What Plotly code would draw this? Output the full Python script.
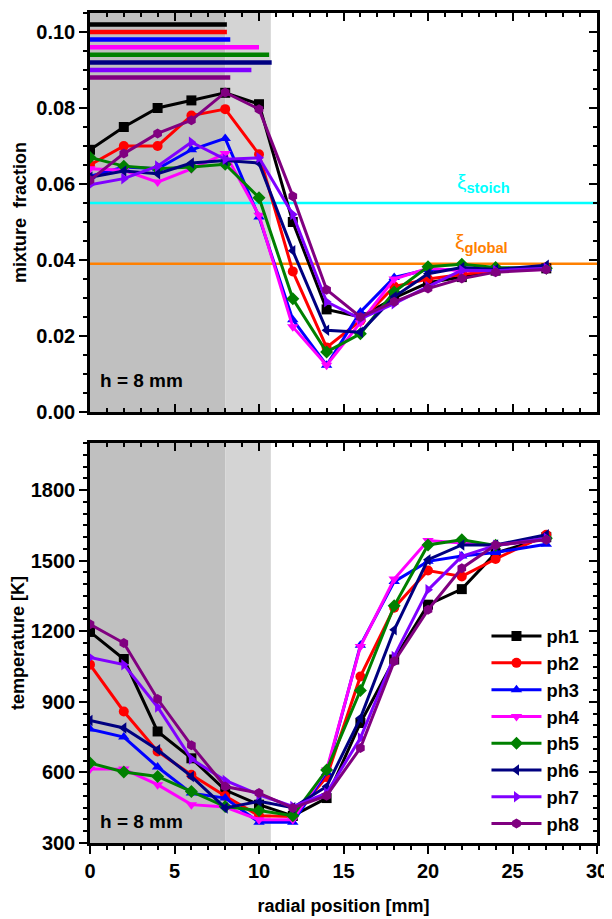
import plotly.graph_objects as go

# ---------------- data ----------------
radial_mm = [0, 2, 4, 6, 8, 10, 12, 14, 16, 18, 20, 22, 24, 27]
phases = ["ph1", "ph2", "ph3", "ph4", "ph5", "ph6", "ph7", "ph8"]
colors = ["#000000", "#ff0000", "#0000ff", "#ff00ff", "#008000", "#000080", "#8000ff", "#800080"]
symbols = ["square", "circle", "triangle-up", "triangle-down", "diamond",
           "triangle-left", "triangle-right", "hexagon"]

mix_ph1 = [0.069, 0.075, 0.080, 0.082, 0.084, 0.081, 0.050, 0.027, 0.025, 0.030, 0.034, 0.0355, 0.0372, 0.0378]
mix_ph2 = [0.065, 0.070, 0.070, 0.078, 0.0797, 0.0678, 0.037, 0.017, 0.024, 0.033, 0.035, 0.0362, 0.0372, 0.038]
mix_ph3 = [0.062, 0.0645, 0.064, 0.069, 0.072, 0.0513, 0.0243, 0.0123, 0.0263, 0.0354, 0.0375, 0.0375, 0.0375, 0.0378]
mix_ph4 = [0.064, 0.0636, 0.0605, 0.064, 0.068, 0.0518, 0.0224, 0.0123, 0.0235, 0.035, 0.0378, 0.0372, 0.0372, 0.0375]
mix_ph5 = [0.067, 0.0647, 0.064, 0.0645, 0.0652, 0.0564, 0.0298, 0.0158, 0.0206, 0.0316, 0.0382, 0.0389, 0.038, 0.0378]
mix_ph6 = [0.0618, 0.0634, 0.0627, 0.0655, 0.0662, 0.0655, 0.0424, 0.0215, 0.021, 0.0303, 0.0364, 0.038, 0.0375, 0.0386]
mix_ph7 = [0.0598, 0.0614, 0.0647, 0.071, 0.0665, 0.0669, 0.052, 0.029, 0.0245, 0.0285, 0.033, 0.0373, 0.0372, 0.0378]
mix_ph8 = [0.061, 0.068, 0.0733, 0.0768, 0.0841, 0.0797, 0.0568, 0.0322, 0.025, 0.029, 0.0325, 0.0351, 0.0368, 0.0375]

temp_ph1 = [1197, 1082, 774, 660, 525, 463, 415, 491, 810, 1080, 1313, 1379, 1532, 1600]
temp_ph2 = [1058, 859, 689, 590, 500, 416, 413, 580, 1008, 1300, 1458, 1433, 1507, 1610]
temp_ph3 = [784, 750, 623, 512, 491, 388, 388, 600, 1140, 1411, 1497, 1520, 1535, 1570]
temp_ph4 = [615, 614, 548, 463, 453, 399, 399, 610, 1135, 1422, 1586, 1575, 1565, 1590]
temp_ph5 = [640, 602, 583, 519, 455, 438, 416, 610, 948, 1308, 1567, 1589, 1565, 1595]
temp_ph6 = [821, 789, 696, 583, 449, 477, 450, 540, 831, 1206, 1504, 1567, 1567, 1610]
temp_ph7 = [1089, 1058, 878, 657, 566, 505, 455, 512, 746, 1093, 1376, 1518, 1565, 1595]
temp_ph8 = [1230, 1150, 912, 715, 540, 512, 449, 501, 704, 1072, 1291, 1468, 1567, 1589]

mix_series = [mix_ph1, mix_ph2, mix_ph3, mix_ph4, mix_ph5, mix_ph6, mix_ph7, mix_ph8]
temp_series = [temp_ph1, temp_ph2, temp_ph3, temp_ph4, temp_ph5, temp_ph6, temp_ph7, temp_ph8]

# coloured reference bars in the upper panel (level, radial extent)
bar_level = [0.102, 0.100, 0.098, 0.096, 0.094, 0.092, 0.090, 0.088]
bar_start = [0, 0, 0, 0, 0, 0, 0, 0]
bar_end = [8.1, 8.1, 8.3, 10.0, 10.6, 10.75, 9.55, 8.3]

xi_stoich = 0.055
xi_global = 0.039
shade_dark = [0, 8]
shade_light = [8, 10.7]

x_ticks = [0, 5, 10, 15, 20, 25, 30]
mix_ticks = [0.00, 0.02, 0.04, 0.06, 0.08, 0.10]
temp_ticks = [300, 600, 900, 1200, 1500, 1800]

# ---------------- figure ----------------
FONT = "Arial, Liberation Sans, sans-serif"
fig = go.Figure()

for i in range(8):
    fig.add_trace(go.Scatter(
        x=[bar_start[i], bar_end[i]], y=[bar_level[i], bar_level[i]],
        mode="lines", line=dict(color=colors[i], width=4.5),
        showlegend=False, hoverinfo="skip", xaxis="x", yaxis="y"))

for i in range(8):
    fig.add_trace(go.Scatter(
        x=radial_mm, y=mix_series[i], mode="lines+markers", name=phases[i],
        line=dict(color=colors[i], width=3),
        marker=dict(symbol=symbols[i], size=10, color=colors[i]),
        showlegend=False, xaxis="x", yaxis="y"))

for i in range(8):
    fig.add_trace(go.Scatter(
        x=radial_mm, y=temp_series[i], mode="lines+markers", name=phases[i],
        line=dict(color=colors[i], width=3),
        marker=dict(symbol=symbols[i], size=10, color=colors[i]),
        showlegend=True, xaxis="x2", yaxis="y2"))

# empty traces to activate mirror (top/right) axes
fig.add_trace(go.Scatter(x=[], y=[], xaxis="x3", yaxis="y3", showlegend=False))
fig.add_trace(go.Scatter(x=[], y=[], xaxis="x4", yaxis="y4", showlegend=False))

# shaded zones and reference lines
for yr in ["y", "y2"]:
    xr = "x" if yr == "y" else "x2"
    fig.add_shape(type="rect", xref=xr, yref=yr + " domain", x0=shade_dark[0], x1=shade_dark[1],
                  y0=0, y1=1, fillcolor="#c0c0c0", line=dict(width=0), layer="below")
    fig.add_shape(type="rect", xref=xr, yref=yr + " domain", x0=shade_light[0], x1=shade_light[1],
                  y0=0, y1=1, fillcolor="#d4d4d4", line=dict(width=0), layer="below")

fig.add_shape(type="line", xref="x domain", yref="y", x0=0, x1=1, y0=xi_stoich, y1=xi_stoich,
              line=dict(color="#00ffff", width=2.5), layer="below")
fig.add_shape(type="line", xref="x domain", yref="y", x0=0, x1=1, y0=xi_global, y1=xi_global,
              line=dict(color="#ff8000", width=2.5), layer="below")

fig.add_annotation(x=21.6, y=xi_stoich + 0.0012, xref="x", yref="y", xanchor="left", yanchor="bottom",
                   text="ξ<sub><b>stoich</b></sub>", showarrow=False,
                   font=dict(family=FONT, size=21, color="#00ffff"))
fig.add_annotation(x=21.5, y=xi_global + 0.0014, xref="x", yref="y", xanchor="left", yanchor="bottom",
                   text="ξ<sub><b>global</b></sub>", showarrow=False,
                   font=dict(family=FONT, size=21, color="#ff8000"))

hfont = dict(family=FONT, size=19, color="black", weight="bold")
fig.add_annotation(x=0.015, y=0.08, xref="x domain", yref="y domain", xanchor="left", yanchor="middle",
                   text="h = 8 mm", showarrow=False, font=hfont)
fig.add_annotation(x=0.015, y=0.053, xref="x2 domain", yref="y2 domain", xanchor="left", yanchor="middle",
                   text="h = 8 mm", showarrow=False, font=hfont)

tickfont = dict(family=FONT, size=20, color="black", weight="bold")
titlefont = dict(family=FONT, size=18, color="black", weight="bold")
common = dict(showline=True, linecolor="black", linewidth=2.5, showgrid=False, zeroline=False,
              tickcolor="black", tickwidth=2, automargin=False)

top_dom = [0.5193, 1.0]
bot_dom = [0.0, 0.4819]

# the page body adds an 8 px offset, so the figure is 8 px smaller each way
fig.update_layout(
    width=604, height=911,
    margin=dict(l=82, r=15, t=5, b=76),
    paper_bgcolor="white", plot_bgcolor="white",
    font=dict(family=FONT, color="black"),
    xaxis=dict(domain=[0, 1], anchor="y", range=[0, 30], tickvals=x_ticks, ticks="inside", ticklen=8,
               showticklabels=False, minor=dict(dtick=1, ticks="inside", ticklen=4, tickwidth=2, tickcolor="black"),
               **common),
    yaxis=dict(domain=top_dom, anchor="x", range=[0, 0.105], tickvals=mix_ticks, tickformat=".2f",
               ticks="outside", ticklen=8, tickfont=tickfont,
               minor=dict(dtick=0.005, ticks="outside", ticklen=4, tickwidth=2, tickcolor="black"),
               title=dict(text="mixture  fraction", font=titlefont, standoff=6),
               **common),
    xaxis3=dict(overlaying="x", side="top", anchor="y3", range=[0, 30], tickvals=x_ticks, ticks="inside",
                ticklen=8, showticklabels=False,
                minor=dict(dtick=1, ticks="inside", ticklen=4, tickwidth=2, tickcolor="black"), **common),
    yaxis3=dict(overlaying="y", side="right", anchor="x3", range=[0, 0.105], tickvals=mix_ticks, ticks="inside",
                ticklen=8, showticklabels=False,
                minor=dict(dtick=0.005, ticks="inside", ticklen=4, tickwidth=2, tickcolor="black"), **common),
    xaxis2=dict(domain=[0, 1], anchor="y2", range=[0, 30], tickvals=x_ticks, ticks="outside", ticklen=8,
                tickfont=tickfont,
                minor=dict(dtick=1, ticks="outside", ticklen=4, tickwidth=2, tickcolor="black"),
                title=dict(text="radial position [mm]", font=titlefont, standoff=19),
                **common),
    yaxis2=dict(domain=bot_dom, anchor="x2", range=[300, 2000], tickvals=temp_ticks, ticks="outside", ticklen=8,
                tickfont=tickfont,
                minor=dict(dtick=50, ticks="outside", ticklen=4, tickwidth=2, tickcolor="black"),
                title=dict(text="temperature [K]", font=titlefont, standoff=6),
                **common),
    xaxis4=dict(overlaying="x2", side="top", anchor="y4", range=[0, 30], tickvals=x_ticks, ticks="inside",
                ticklen=8, showticklabels=False,
                minor=dict(dtick=1, ticks="inside", ticklen=4, tickwidth=2, tickcolor="black"), **common),
    yaxis4=dict(overlaying="y2", side="right", anchor="x4", range=[300, 2000], tickvals=temp_ticks, ticks="inside",
                ticklen=8, showticklabels=False,
                minor=dict(dtick=50, ticks="inside", ticklen=4, tickwidth=2, tickcolor="black"), **common),
    legend=dict(x=0.782, y=0.2715, xanchor="left", yanchor="top", bgcolor="rgba(0,0,0,0)",
                font=dict(family=FONT, size=18.3, color="black", weight="bold"),
                itemwidth=50, tracegroupgap=0),
)

fig.write_html("out.html")
